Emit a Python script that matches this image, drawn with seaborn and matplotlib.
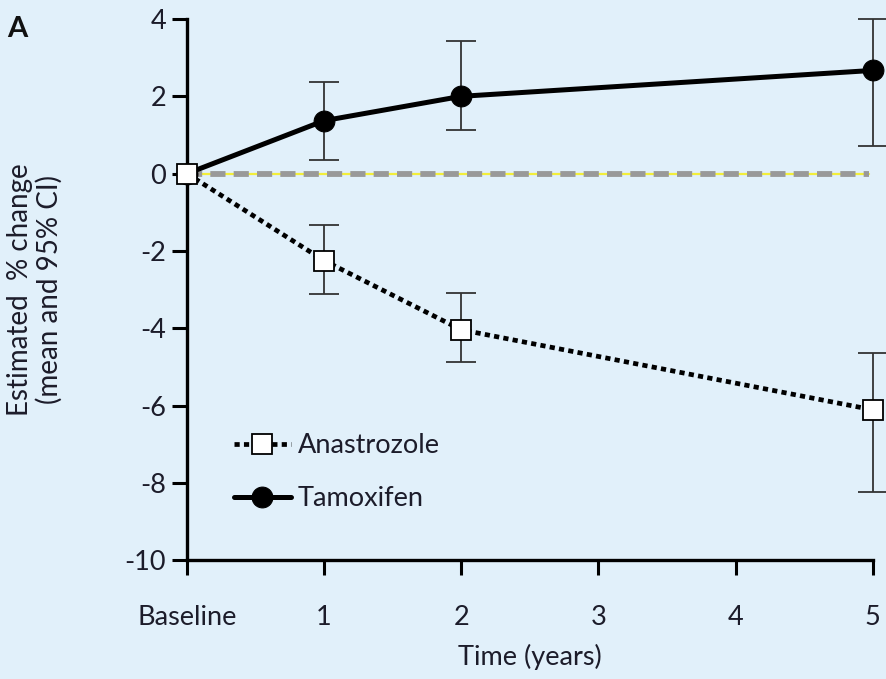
import matplotlib
matplotlib.use("Agg")
import matplotlib.pyplot as plt
import seaborn as sns
import pandas as pd

# Study time points (years from baseline)
years = [0, 1, 2, 5]
tick_positions = [0, 1, 2, 3, 4, 5]
tick_labels = ["Baseline", "1", "2", "3", "4", "5"]

# Estimated % change with 95% CI
tamoxifen_mean = [0.0, 1.37, 2.0, 2.67]
tamoxifen_low = [0.0, 0.36, 1.14, 0.72]
tamoxifen_high = [0.0, 2.38, 3.42, 4.0]

anastrozole_mean = [0.0, -2.25, -4.04, -6.11]
anastrozole_low = [0.0, -3.11, -4.87, -8.24]
anastrozole_high = [0.0, -1.32, -3.08, -4.64]

bg = "#E1F0FA"
txt = "#1C1C2A"
fs = 19.5
sns.set_theme(style="ticks")
plt.rcParams["font.family"] = ["Lato", "DejaVu Sans"]
plt.rcParams["axes.unicode_minus"] = False

fig = plt.figure(figsize=(8.86, 6.79), dpi=100, facecolor=bg)
ax = fig.add_axes([0.211, 0.175, 0.774, 0.797])
ax.set_facecolor(bg)

df = pd.DataFrame({
    "year": years * 2,
    "change": tamoxifen_mean + anastrozole_mean,
    "group": ["Tamoxifen"] * len(years) + ["Anastrozole"] * len(years),
})

# Reference line at zero change
ax.axhline(0, xmin=0, xmax=0.995, color="#F2EE3A", lw=1.6, zorder=1)
ax.axhline(0, xmin=0, xmax=0.995, color="#999999", lw=4.2, ls=(0, (2.6, 1.4)), zorder=1.5)

# Confidence intervals
for mean, low, high in [(tamoxifen_mean, tamoxifen_low, tamoxifen_high),
                        (anastrozole_mean, anastrozole_low, anastrozole_high)]:
    xs = years[1:]
    m = mean[1:]
    lo = [a - b for a, b in zip(m, low[1:])]
    hi = [b - a for a, b in zip(m, high[1:])]
    ax.errorbar(xs, m, yerr=[lo, hi], fmt="none", ecolor="#333333",
                elinewidth=1.3, capsize=11, capthick=1.3, zorder=2, clip_on=False)

tam = df[df.group == "Tamoxifen"]
ana = df[df.group == "Anastrozole"]
sns.lineplot(data=tam, x="year", y="change", ax=ax, color="black", lw=3.6,
             marker="o", markersize=15, markerfacecolor="black",
             markeredgecolor="black", label="Tamoxifen", zorder=3, clip_on=False)
sns.lineplot(data=ana, x="year", y="change", ax=ax, color="black", lw=3.4,
             ls=(0, (1.1, 0.9)), marker="s", markersize=14,
             markerfacecolor="white", markeredgecolor="black", markeredgewidth=1.3,
             label="Anastrozole", zorder=4, clip_on=False)

ax.set_xlim(0, 5)
ax.set_ylim(-10, 4)
ax.set_xticks(tick_positions)
ax.set_xticklabels(tick_labels)
ax.set_yticks([4, 2, 0, -2, -4, -6, -8, -10])
ax.tick_params(axis="both", length=11, width=2.2, color="black",
               labelsize=fs, labelcolor=txt)
ax.tick_params(axis="x", pad=21)
ax.tick_params(axis="y", pad=4)
for side in ["top", "right"]:
    ax.spines[side].set_visible(False)
for side in ["left", "bottom"]:
    ax.spines[side].set_linewidth(2.4)
    ax.spines[side].set_color("black")

ax.set_xlabel("Time (years)", fontsize=fs, color=txt, labelpad=10)
ax.set_ylabel("Estimated  % change\n(mean and 95% CI)", fontsize=fs + 0.5,
              color=txt, linespacing=1.15)
ax.yaxis.set_label_coords(-0.181, 0.5)

handles, labels = ax.get_legend_handles_labels()
order = [labels.index("Anastrozole"), labels.index("Tamoxifen")]
leg = ax.legend([handles[i] for i in order], [labels[i] for i in order],
                loc="lower left", bbox_to_anchor=(0.033, 0.045), frameon=False,
                fontsize=fs, handlelength=2.1, handletextpad=0.25,
                labelspacing=1.05, labelcolor=txt)

fig.text(0.008, 0.945, "A", fontsize=21, fontweight="bold", color="#111111")

fig.savefig("out.png", dpi=100, facecolor=bg)
